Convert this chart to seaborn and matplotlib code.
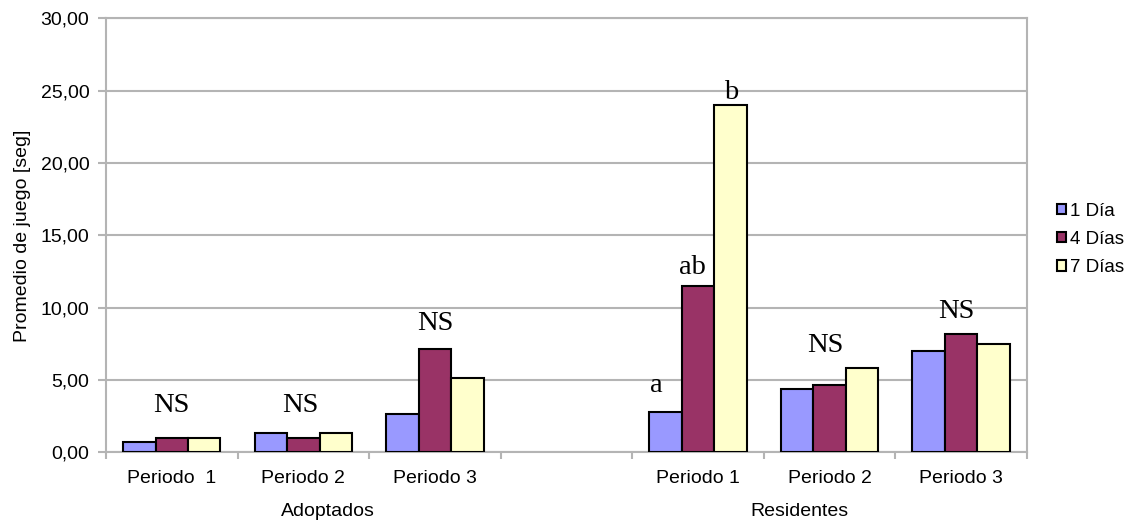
import numpy as np
import pandas as pd
import matplotlib
matplotlib.use("Agg")
import matplotlib.pyplot as plt
import seaborn as sns
from matplotlib.patches import Patch

# categories (unique keys) and their axis labels
cat_keys = ["A1", "A2", "A3", "gap", "R1", "R2", "R3"]
cat_labels = ["Periodo  1", "Periodo 2", "Periodo 3", "", "Periodo 1", "Periodo 2", "Periodo 3"]
groups = ["Adoptados", "Residentes"]

series = ["1 Día", "4 Días", "7 Días"]
data_cats = ["A1", "A2", "A3", "R1", "R2", "R3"]
dia1 = [0.69, 1.33, 2.67, 2.81, 4.35, 7.00]
dia4 = [1.01, 1.01, 7.14, 11.49, 4.65, 8.18]
dia7 = [1.01, 1.33, 5.17, 24.00, 5.83, 7.51]

# significance letters: (text, x position in category units, baseline value)
notes = [
    ("NS", 0.0, 2.81), ("NS", 0.98, 2.81), ("NS", 2.0, 8.45),
    ("a", 3.685, 4.19), ("ab", 3.958, 12.32), ("b", 4.255, 24.4),
    ("NS", 4.97, 6.95), ("NS", 5.96, 9.26),
]

colors = ["#9999FF", "#993366", "#FFFFCC"]
grid_c = "#b4b4b4"

rows = []
for s, vals in zip(series, [dia1, dia4, dia7]):
    for c, v in zip(data_cats, vals):
        rows.append({"cat": c, "serie": s, "valor": v})
df = pd.DataFrame(rows)

plt.rcParams['font.family'] = ['Liberation Sans', 'DejaVu Sans']
fs = 14

fig = plt.figure(figsize=(11.31, 5.24), dpi=100)
ax = fig.add_axes([0.0937, 0.1368, 0.8143, 0.8282])

sns.barplot(data=df, x="cat", y="valor", hue="serie", order=cat_keys,
            hue_order=series, palette=colors, saturation=1, edgecolor="black",
            linewidth=1.5, width=0.74, gap=0, errorbar=None, legend=False,
            ax=ax, zorder=3)

ax.set_xlim(-0.5, 6.5)
ax.set_ylim(0, 30)
ax.set_yticks(np.arange(0, 31, 5))
ax.set_yticklabels([f"{v:.2f}".replace(".", ",") for v in np.arange(0, 31, 5)], fontsize=fs)
ax.yaxis.grid(True, color=grid_c, linewidth=1.5, zorder=0)
ax.set_axisbelow(True)

ax.set_xticks(range(7))
ax.set_xticklabels(cat_labels, fontsize=fs)
ax.set_xticks(np.arange(-0.5, 7, 1), minor=True)
ax.tick_params(axis="x", which="major", length=0, pad=13)
ax.tick_params(axis="x", which="minor", length=5, width=1.5, color=grid_c)
ax.tick_params(axis="y", length=6, width=1.5, color=grid_c, pad=6)

for sp in ax.spines.values():
    sp.set_color(grid_c)
    sp.set_linewidth(1.5)

ax.set_xlabel(None)
ax.set_ylabel("Promedio de juego [seg]", fontsize=fs, labelpad=7)

# group labels below the ticks
trans = ax.get_xaxis_transform()
ax.text(1.19, -0.137, groups[0], transform=trans, ha="center", va="center", fontsize=fs)
ax.text(4.77, -0.137, groups[1], transform=trans, ha="center", va="center", fontsize=fs)

for txt, x, y in notes:
    ax.text(x, y, txt, ha="center", va="baseline", fontsize=20.5,
            family=["Liberation Serif", "DejaVu Serif"], zorder=4)

handles = [Patch(facecolor=c, edgecolor="black", linewidth=1.5) for c in colors]
fig.legend(handles, series, loc="center left", bbox_to_anchor=(0.92, 0.543),
           frameon=False, fontsize=13.5, handlelength=0.45, handleheight=0.45,
           handletextpad=0.2, labelspacing=0.6)

fig.savefig("out.png", dpi=100)
